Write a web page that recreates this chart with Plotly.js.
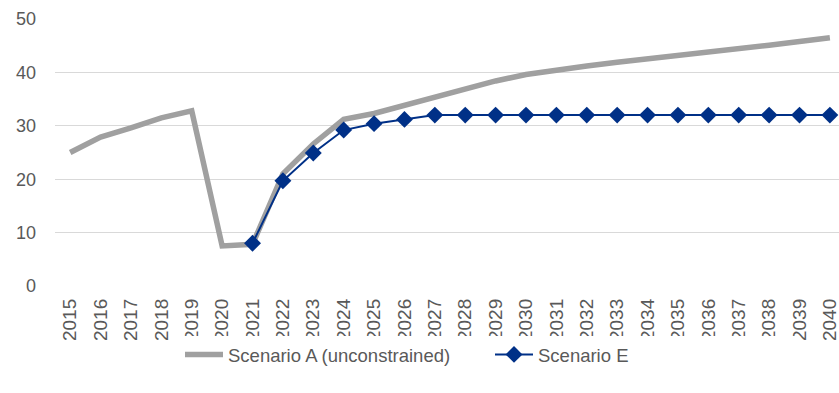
<!DOCTYPE html>
<html><head><meta charset="utf-8">
<script src="https://cdn.plot.ly/plotly-3.0.1.min.js"></script>
<style>html,body{margin:0;padding:0;overflow:hidden;background:#fff}</style>
</head><body><div id="chart" style="width:839px;height:393px"></div>
<script>
const years = [2015,2016,2017,2018,2019,2020,2021,2022,2023,2024,2025,2026,2027,2028,2029,2030,2031,2032,2033,2034,2035,2036,2037,2038,2039,2040];
const scenarioA = [25.0,27.9,29.6,31.5,32.8,7.5,7.8,21.0,26.6,31.2,32.3,33.8,35.3,36.8,38.4,39.6,40.5,41.2,41.9,42.5,43.1,43.8,44.5,45.1,45.8,46.5];
const yearsE = [2021,2022,2023,2024,2025,2026,2027,2028,2029,2030,2031,2032,2033,2034,2035,2036,2037,2038,2039,2040];
const scenarioE = [8.0,19.7,24.9,29.2,30.4,31.2,32.0,32.0,32.0,32.0,32.0,32.0,32.0,32.0,32.0,32.0,32.0,32.0,32.0,32.0];
const yTicks = [0,10,20,30,40,50];

const font = "'Liberation Sans', Arial, sans-serif";
const traces = [
  {x: years, y: scenarioA, type:'scatter', mode:'lines', name:'Scenario A (unconstrained)',
   line:{color:'#a0a0a0', width:5.5}},
  {x: yearsE, y: scenarioE, type:'scatter', mode:'lines+markers', name:'Scenario E',
   line:{color:'#003087', width:2}, marker:{symbol:'diamond', size:13, color:'#003087'}}
];
const layout = {
  width:839, height:393,
  margin:{l:55, r:0, t:19, b:107},
  paper_bgcolor:'#fff', plot_bgcolor:'#fff',
  font:{family:font, color:'#595959'},
  showlegend:true,
  legend:{orientation:'h', x:180/839, xref:'container', xanchor:'left', y:0.097, yanchor:'middle', yref:'container',
          itemwidth:38, entrywidth:257,
          font:{size:18.5, color:'#595959', family:font}},
  xaxis:{type:'linear', range:[2014.5, 2040.3], tickmode:'array', tickvals:years, ticktext:years.map(String),
         tickangle:-90, tickfont:{size:19, color:'#595959'}, showgrid:false, zeroline:false,
         showline:false, ticks:'', ticklabelstandoff:8, ticklabeloverflow:'allow', fixedrange:true},
  yaxis:{range:[0,50], tickvals:yTicks, tickfont:{size:18, color:'#595959'}, showgrid:true,
         gridcolor:'#d9d9d9', gridwidth:1.3, zeroline:false, showline:false, ticks:'', ticklabelstandoff:18}
};
Plotly.newPlot('chart', traces, layout, {displayModeBar:false, staticPlot:true});
</script></body></html>
